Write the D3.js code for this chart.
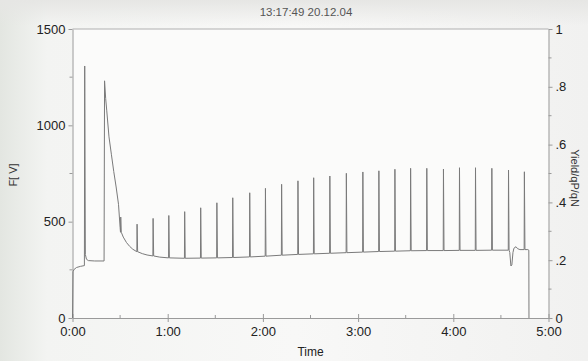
<!DOCTYPE html>
<html>
<head>
<meta charset="utf-8">
<script src="https://cdn.jsdelivr.net/npm/d3@7"></script>
<style>
  html, body { margin: 0; padding: 0; background: #f3f3f1; }
  svg { display: block; font-family: Arial, "Liberation Sans", sans-serif; }
</style>
</head>
<body>
<svg id="chart" width="588" height="361"></svg>
<script>
// Chart values
const title = "13:17:49 20.12.04";
const leftTicks = [0, 500, 1000, 1500];
const leftMinor = [250, 750, 1250];
const rightTicks = [0, 0.2, 0.4, 0.6, 0.8, 1];
const rightTickLabels = ["0", ".2", ".4", ".6", ".8", "1"];
const rightMinor = [0.1, 0.3, 0.5, 0.7, 0.9];
const timeTicks = [0, 60, 120, 180, 240, 300];
const timeTickLabels = ["0:00", "1:00", "2:00", "3:00", "4:00", "5:00"];
const timeMinor = [30, 90, 150, 210, 270];

// slow part of the F trace, seconds / F
const slowTrace = [
  [0, 0], [0.3, 240], [1, 252], [2.5, 262], [5, 268], [7.5, 272],
  [7.7, 1308], [8.1, 330], [8.8, 305], [10, 298], [14, 296], [19.9, 296],
  [20.2, 1231], [20.9, 1140], [21.6, 1075], [23, 940], [24.5, 850],
  [26, 760], [27.5, 680], [29, 590], [30, 470],
  [32, 420], [34, 392], [36, 372], [38, 357],
  [44, 334], [47, 327], [55, 316],
  [275.6, 340], [276.3, 270], [276.9, 275], [277.6, 340], [278.2, 362],
  [279.5, 370], [280.5, 360], [282, 355],
  [287, 355], [287.6, 352], [287.7, 0]
];

// saturation pulses during actinic light
const spikeTimes = [30.4, 40.7, 50.8, 60.7, 70.7, 80.8, 91, 101, 111.7, 121.6,
  131.8, 142.1, 152, 162.2, 172.6, 183, 193.1, 203.2, 213.1, 223.3,
  233.8, 243.9, 254, 264.3, 274.8, 284.8];
const spikePeaks = [524, 487, 517, 532, 552, 572, 598, 624, 650, 673,
  694, 712, 728, 737, 751, 758, 764, 772, 777, 777,
  773, 780, 780, 777, 768, 759];
const spikeBases = [445, 344, 322, 312, 310, 311, 312, 314, 317, 321,
  326, 330, 333, 336, 339, 342, 345, 347, 349, 350,
  350, 351, 351, 352, 352, 355];

const svg = d3.select("#chart");
const W = 588, H = 361;
const margin = { top: 29, right: 39.5, bottom: 43, left: 72.5 };

// background, a bit like a photographed screen
const defs = svg.append("defs");
const bg = defs.append("linearGradient").attr("id", "bg").attr("x1", 0).attr("x2", 1);
bg.append("stop").attr("offset", 0).attr("stop-color", "#e3e6e1");
bg.append("stop").attr("offset", 0.08).attr("stop-color", "#f3f4f2");
bg.append("stop").attr("offset", 0.5).attr("stop-color", "#f8f8f7");
bg.append("stop").attr("offset", 1).attr("stop-color", "#f1f1f0");
svg.append("rect").attr("width", W).attr("height", H).attr("fill", "url(#bg)");
const topBand = defs.append("linearGradient").attr("id", "topband").attr("x1", 0).attr("x2", 0).attr("y1", 0).attr("y2", 1);
topBand.append("stop").attr("offset", 0).attr("stop-color", "#e6e6e4").attr("stop-opacity", 1);
topBand.append("stop").attr("offset", 1).attr("stop-color", "#e6e6e4").attr("stop-opacity", 0);
svg.append("rect").attr("width", W).attr("height", 26).attr("fill", "url(#topband)");

const x = d3.scaleLinear().domain([0, 300]).range([margin.left, W - margin.right]);
const y = d3.scaleLinear().domain([0, 1500]).range([H - margin.bottom, margin.top]);
const yR = d3.scaleLinear().domain([0, 1]).range([H - margin.bottom, margin.top]);

svg.append("rect")
  .attr("x", x(0)).attr("y", y(1500))
  .attr("width", x(300) - x(0)).attr("height", y(0) - y(1500))
  .attr("fill", "#fbfbfa");

const axisColor = "#9a9a9a";
const labelColor = "#222";

function styleAxis(g) {
  g.selectAll(".domain").attr("stroke", axisColor);
  g.selectAll(".tick line").attr("stroke", axisColor);
  g.selectAll(".tick text").attr("fill", labelColor).attr("font-size", 13);
}

// bottom axis
const xAxis = svg.append("g").attr("transform", `translate(0,${y(0)})`)
  .call(d3.axisBottom(x).tickValues(timeTicks)
    .tickFormat((d, i) => timeTickLabels[i]).tickSize(4).tickPadding(5).tickSizeOuter(0));
styleAxis(xAxis);
xAxis.selectAll(".tick line").attr("y1", -4);
svg.append("g").attr("transform", `translate(0,${y(0)})`)
  .selectAll("line").data(timeMinor).join("line")
    .attr("x1", d => x(d)).attr("x2", d => x(d))
    .attr("y1", -3).attr("y2", 1)
    .attr("stroke", axisColor);

// left axis
const yAxis = svg.append("g").attr("transform", `translate(${x(0)},0)`)
  .call(d3.axisLeft(y).tickValues(leftTicks).tickFormat(d3.format("d"))
    .tickSize(4).tickPadding(3).tickSizeOuter(0));
styleAxis(yAxis);
svg.append("g").attr("transform", `translate(${x(0)},0)`)
  .selectAll("line").data(leftMinor).join("line")
    .attr("x1", -3).attr("x2", 0)
    .attr("y1", d => y(d)).attr("y2", d => y(d))
    .attr("stroke", axisColor);

// right axis
const rAxis = svg.append("g").attr("transform", `translate(${x(300)},0)`)
  .call(d3.axisRight(yR).tickValues(rightTicks)
    .tickFormat((d, i) => rightTickLabels[i]).tickSize(4).tickPadding(3).tickSizeOuter(0));
styleAxis(rAxis);
svg.append("g").attr("transform", `translate(${x(300)},0)`)
  .selectAll("line").data(rightMinor).join("line")
    .attr("x1", 0).attr("x2", 3)
    .attr("y1", d => yR(d)).attr("y2", d => yR(d))
    .attr("stroke", axisColor);

// top frame line
svg.append("line")
  .attr("x1", x(0)).attr("x2", x(300))
  .attr("y1", y(1500)).attr("y2", y(1500))
  .attr("stroke", "#b0b0b0");

// trace: slow part plus the pulses
const points = slowTrace.slice();
spikeTimes.forEach((t, i) => {
  points.push([t - 0.15, spikeBases[i]], [t, spikePeaks[i]], [t + 0.35, spikeBases[i]]);
});
points.sort((a, b) => a[0] - b[0]);

const line = d3.line().x(d => x(d[0])).y(d => y(d[1]));
svg.append("path")
  .datum(points)
  .attr("d", line)
  .attr("fill", "none")
  .attr("stroke", "#7a7a7a")
  .attr("stroke-width", 1)
  .attr("stroke-linejoin", "round");

// texts
svg.append("text")
  .attr("x", 306).attr("y", 16)
  .attr("text-anchor", "middle")
  .attr("font-size", 11.5).attr("fill", "#555")
  .text(title);

svg.append("text")
  .attr("x", (x(0) + x(300)) / 2).attr("y", 356)
  .attr("text-anchor", "middle")
  .attr("font-size", 12).attr("fill", labelColor)
  .text("Time");

svg.append("text")
  .attr("transform", `translate(17,175) rotate(-90)`)
  .attr("text-anchor", "middle")
  .attr("font-size", 11).attr("fill", "#333")
  .text("F[  V]");

svg.append("text")
  .attr("transform", `translate(571,178) rotate(90)`)
  .attr("text-anchor", "middle")
  .attr("font-size", 11).attr("fill", "#333")
  .text("Yield/qP/qN");
</script>
</body>
</html>
